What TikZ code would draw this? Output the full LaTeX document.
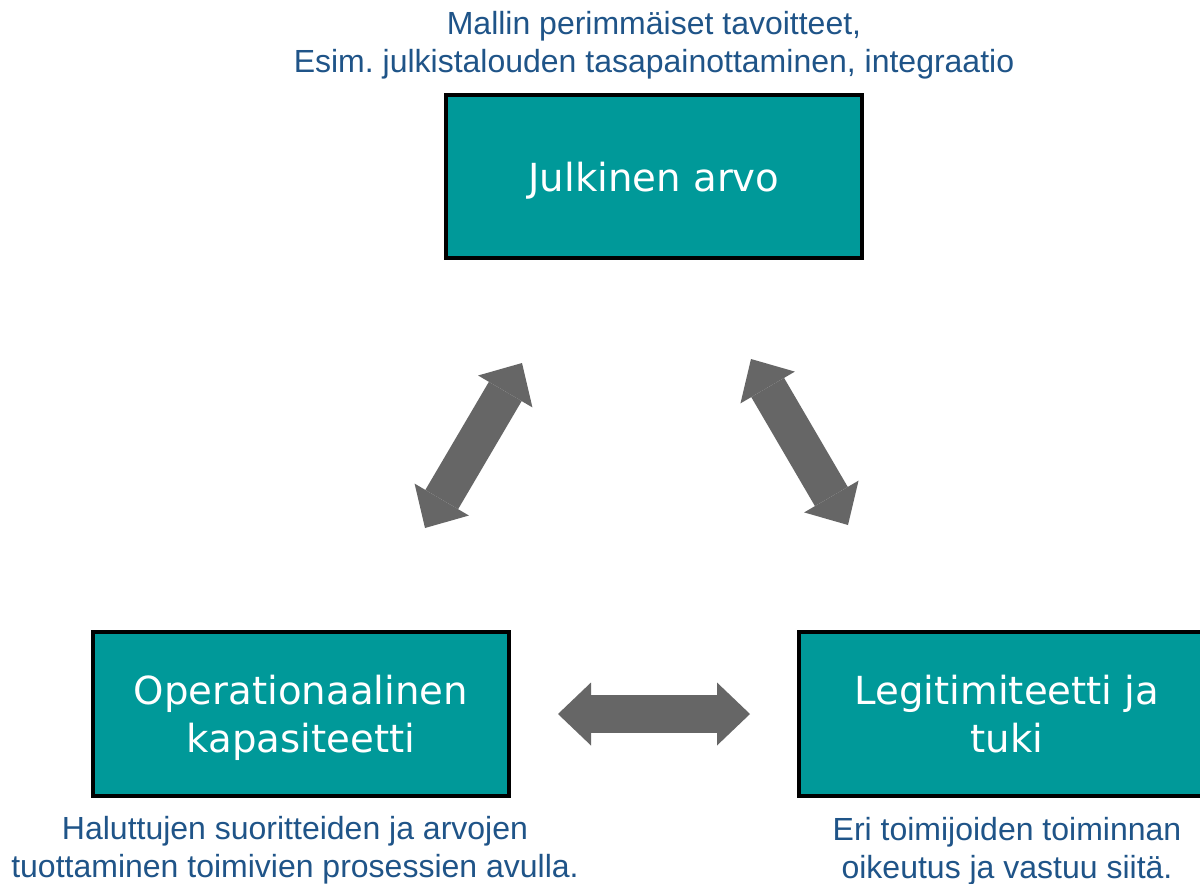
\documentclass[tikz,border=0pt]{standalone}
\usepackage{fontspec}
\setmainfont{Liberation Sans}
\newfontfamily\boxfont{DejaVu Sans}
\usepackage{tikz}
\usetikzlibrary{arrows.meta,positioning}
\usepackage{xcolor}
\definecolor{dfteal}{RGB}{0,153,153}
\definecolor{dfgray}{RGB}{102,102,102}
\definecolor{dftext}{RGB}{31,84,136}
\tikzstyle{goal} = [rectangle, minimum width=312pt, minimum height=122.5pt, text centered, align=center, draw=black, fill=dfteal, line width=3pt, text=white, text depth=0pt, font=\boxfont\fontsize{29}{36}\selectfont]
\tikzstyle{note} = [text=dftext, align=center, inner sep=0pt, font=\fontsize{24}{28.5}\selectfont]
\tikzstyle{biarrow} = [line width=28.5pt, color=dfgray, {Triangle[length=24.75pt, width=47.25pt, line width=0pt]}-{Triangle[length=24.75pt, width=47.25pt, line width=0pt]}]

\begin{document}
\begin{tikzpicture}[x=0.75pt, y=-0.75pt]
\path[use as bounding box, fill=white] (0,0) rectangle (1200,883);
\clip (0,0) rectangle (1200,883);

% Three corners
\node (arvo) [goal] at (654,176.5) {Julkinen arvo};
\node (kapa) [goal] at (301,714) {Operationaalinen\\kapasiteetti};
\node (legi) [goal] at (1007,714) {Legitimiteetti ja\\tuki};

% Explanations
\node (tavoite) [note, above=10pt of arvo] {Mallin perimmäiset tavoitteet,\\Esim.\ julkistalouden tasapainottaminen, integraatio};
\node (tuotanto) [note, below=14pt of kapa, xshift=-4.5pt] {Haluttujen suoritteiden ja arvojen\\tuottaminen toimivien prosessien avulla.};
\node (oikeutus) [note, below=14.5pt of legi] {Eri toimijoiden toiminnan\\oikeutus ja vastuu siitä.};

% Arrow ends
\coordinate (arvoL) at (522,363);
\coordinate (kapaT) at (425,528);
\coordinate (arvoR) at (751,359);
\coordinate (legiT) at (848,525);
\coordinate (kapaR) at (558,714);
\coordinate (legiL) at (750,714);

\draw[biarrow] (kapaT) -- (arvoL);
\draw[biarrow] (arvoR) -- (legiT);
\draw[biarrow] (kapaR) -- (legiL);
\end{tikzpicture}
\end{document}
